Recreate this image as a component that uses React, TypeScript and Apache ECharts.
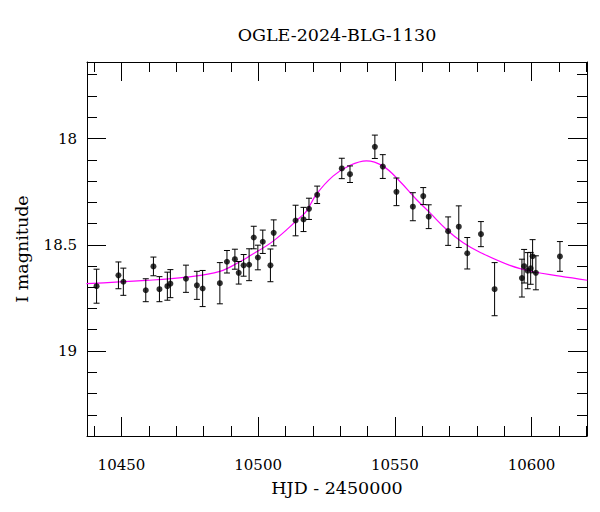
import React, { useEffect, useRef } from "react";
import * as echarts from "echarts";

// Observed photometry (HJD - 2450000, I magnitude, error)
const hjd = [
  10440.9, 10448.9, 10450.7, 10458.9, 10461.7, 10463.9, 10466.8, 10467.9, 10473.6, 10477.6,
  10479.7, 10486.0, 10488.6, 10491.5, 10492.9, 10494.7, 10496.7, 10498.4, 10499.9, 10501.7,
  10504.5, 10505.7, 10513.7, 10516.6, 10518.6, 10521.6, 10530.6, 10533.6, 10542.7, 10545.6,
  10550.6, 10556.6, 10560.4, 10562.4, 10569.5, 10573.4, 10576.5, 10581.5, 10586.5, 10596.5,
  10597.3, 10598.6, 10599.7, 10600.4, 10601.6, 10610.4,
];
const mag = [
  18.695, 18.644, 18.674, 18.714, 18.602, 18.709, 18.695, 18.683, 18.66, 18.691,
  18.706, 18.681, 18.58, 18.568, 18.632, 18.597, 18.594, 18.466, 18.56, 18.486,
  18.597, 18.444, 18.386, 18.381, 18.331, 18.265, 18.141, 18.168, 18.039, 18.132,
  18.251, 18.321, 18.271, 18.368, 18.436, 18.415, 18.54, 18.45, 18.709, 18.657,
  18.601, 18.622, 18.611, 18.554, 18.632, 18.555,
];
const magErr = [
  0.08, 0.063, 0.064, 0.054, 0.044, 0.059, 0.066, 0.066, 0.064, 0.066,
  0.085, 0.097, 0.053, 0.047, 0.053, 0.051, 0.075, 0.053, 0.058, 0.055,
  0.077, 0.061, 0.072, 0.057, 0.05, 0.041, 0.048, 0.039, 0.055, 0.056,
  0.065, 0.066, 0.04, 0.056, 0.067, 0.098, 0.074, 0.059, 0.125, 0.089,
  0.079, 0.085, 0.075, 0.078, 0.08, 0.07,
];

// Model curve
const modelHjd = [
  10437.2, 10459.1, 10473.8, 10486.0, 10493.3, 10497.0, 10505.5, 10515.2, 10517.7, 10521.3,
  10527.4, 10533.5, 10539.6, 10545.7, 10551.8, 10557.9, 10562.8, 10568.9, 10575.0, 10581.1,
  10592.1, 10600.6, 10610.4, 10620.4,
];
const modelMag = [
  18.683, 18.668, 18.652, 18.625, 18.58, 18.552, 18.483, 18.373, 18.342, 18.263,
  18.177, 18.127, 18.105, 18.13, 18.201, 18.287, 18.349, 18.428, 18.491, 18.535,
  18.597, 18.627, 18.648, 18.667,
];

const xRange = [10437.4, 10620.3];
const yRange = [17.64, 19.4];
const xMajor = 50;
const yMajor = 0.5;

const TITLE = "OGLE-2024-BLG-1130";
const X_NAME = "HJD - 2450000";
const Y_NAME = "I magnitude";
const FONT = "DejaVu Serif";

function makeXAxis(pos: "bottom" | "top", labels: boolean) {
  return {
    type: "value",
    position: pos,
    min: xRange[0],
    max: xRange[1],
    splitNumber: 4,
    minInterval: xMajor,
    maxInterval: xMajor,
    axisLine: { show: true, onZero: false, lineStyle: { color: "#000", width: 1 } },
    axisTick: { show: true, inside: true, length: 19, lineStyle: { color: "#000", width: 1 } },
    minorTick: { show: true, splitNumber: 5, length: 10, lineStyle: { color: "#000", width: 1 } },
    splitLine: { show: false },
    minorSplitLine: { show: false },
    axisLabel: {
      show: labels,
      showMinLabel: false,
      showMaxLabel: false,
      margin: 21,
      color: "#000",
      fontFamily: FONT,
      fontSize: 15,
      formatter: (v: number) => String(Math.round(v)),
    },
    name: labels ? X_NAME : "",
    nameLocation: "middle",
    nameGap: 43,
    nameTextStyle: { color: "#000", fontFamily: FONT, fontSize: 17.5 },
  };
}

function makeYAxis(pos: "left" | "right", labels: boolean) {
  return {
    type: "value",
    position: pos,
    inverse: true,
    min: yRange[0],
    max: yRange[1],
    splitNumber: 3,
    minInterval: yMajor,
    maxInterval: yMajor,
    axisLine: { show: true, onZero: false, lineStyle: { color: "#000", width: 1 } },
    axisTick: { show: true, inside: true, length: 19, lineStyle: { color: "#000", width: 1 } },
    minorTick: { show: true, splitNumber: 5, length: 10, lineStyle: { color: "#000", width: 1 } },
    splitLine: { show: false },
    minorSplitLine: { show: false },
    axisLabel: {
      show: labels,
      showMinLabel: false,
      showMaxLabel: false,
      margin: 10,
      color: "#000",
      fontFamily: FONT,
      fontSize: 15,
    },
    name: labels ? Y_NAME : "",
    nameLocation: "middle",
    nameGap: 56,
    nameRotate: 90,
    nameTextStyle: { color: "#000", fontFamily: FONT, fontSize: 17.5 },
  };
}

export default function App() {
  const ref = useRef<HTMLDivElement>(null);
  useEffect(() => {
    if (!ref.current) return;
    const chart = echarts.init(ref.current, undefined, { renderer: "svg" });
    const points = hjd.map((x, i) => [x, mag[i], magErr[i]]);
    const model = modelHjd.map((x, i) => [x, modelMag[i]]);
    chart.setOption({
      animation: false,
      backgroundColor: "#fff",
      grid: { left: 87, right: 13, top: 62, bottom: 76, containLabel: false },
      xAxis: [makeXAxis("bottom", true), makeXAxis("top", false)],
      yAxis: [makeYAxis("left", true), makeYAxis("right", false)],
      graphic: [
        {
          type: "text",
          x: 337,
          y: 35,
          style: {
            text: TITLE,
            align: "center",
            verticalAlign: "middle",
            fill: "#000",
            fontFamily: FONT,
            fontSize: 17.5,
          },
        },
      ],
      series: [
        {
          type: "line",
          xAxisIndex: 0,
          yAxisIndex: 0,
          data: model,
          smooth: 0.4,
          showSymbol: false,
          symbol: "none",
          lineStyle: { color: "#ff00ff", width: 1.2 },
          z: 1,
          silent: true,
        },
        {
          type: "custom",
          xAxisIndex: 0,
          yAxisIndex: 0,
          data: points,
          encode: { x: 0, y: 1 },
          z: 2,
          silent: true,
          renderItem: (_params: any, api: any) => {
            const x = api.value(0);
            const y = api.value(1);
            const e = api.value(2);
            const top = api.coord([x, y - e]);
            const bot = api.coord([x, y + e]);
            const cw = 3;
            const style = { stroke: "#000", lineWidth: 1 };
            return {
              type: "group",
              children: [
                { type: "line", shape: { x1: top[0], y1: top[1], x2: bot[0], y2: bot[1] }, style },
                { type: "line", shape: { x1: top[0] - cw, y1: top[1], x2: top[0] + cw, y2: top[1] }, style },
                { type: "line", shape: { x1: bot[0] - cw, y1: bot[1], x2: bot[0] + cw, y2: bot[1] }, style },
              ],
            };
          },
        },
        {
          type: "scatter",
          xAxisIndex: 0,
          yAxisIndex: 0,
          data: points.map((p) => [p[0], p[1]]),
          symbol: "circle",
          symbolSize: 6,
          itemStyle: { color: "#000" },
          z: 3,
          silent: true,
        },
      ],
    });
    return () => chart.dispose();
  }, []);
  return (
    <div
      ref={ref}
      style={{ position: "fixed", left: 0, top: 0, width: 600, height: 512, background: "#fff" }}
    />
  );
}
